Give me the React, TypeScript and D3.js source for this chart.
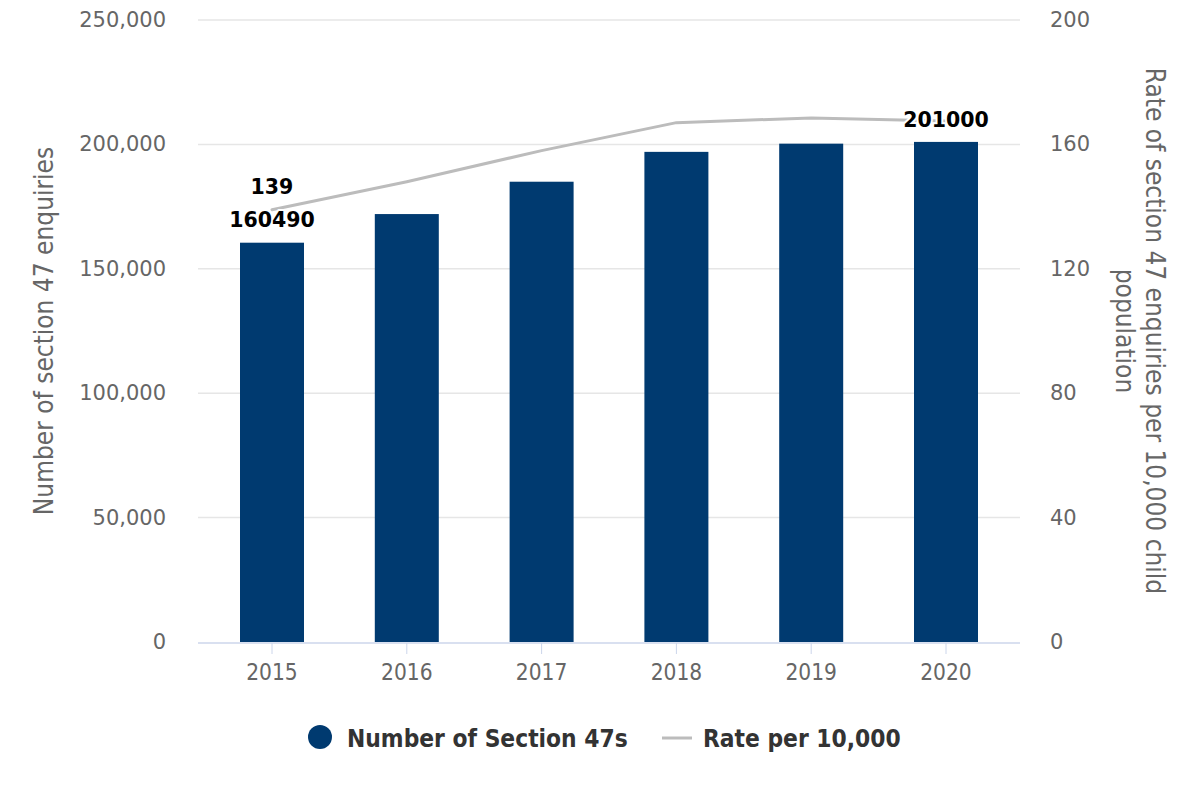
import * as d3 from 'd3';

const YEARS = ['2015', '2016', '2017', '2018', '2019', '2020'];
const COUNTS = [160490, 172000, 185000, 197000, 200300, 201000];
const RATES = [139, 148, 158, 167, 168.5, 167.5];
const LEFT_TICKS = [0, 50000, 100000, 150000, 200000, 250000];
const RIGHT_TICKS = [0, 40, 80, 120, 160, 200];

const W = 1200;
const H = 800;
const plot = { left: 198, right: 1020, top: 20, bottom: 642 };
const BAR_W = 64;
const BAR_COLOR = '#003a70';
const LINE_COLOR = '#bcbcbc';
const LABEL_FONT = '"DejaVu Sans", Verdana, sans-serif';
const NARROW_FONT = '"DejaVu Sans Condensed", "DejaVu Sans", sans-serif';

export default function App() {
  const x = d3.scalePoint<string>().domain(YEARS).range([272, 946]);
  const yLeft = d3.scaleLinear().domain([0, 250000]).range([plot.bottom, plot.top]);
  const yRight = d3.scaleLinear().domain([0, 200]).range([plot.bottom, plot.top]);

  const line = d3.line<number>()
    .x((_, i) => x(YEARS[i])!)
    .y(d => yRight(d));

  const fmt = d3.format(',');
  const last = YEARS.length - 1;
  const midY = (plot.top + plot.bottom) / 2;

  return (
    <svg width={W} height={H} style={{ position: 'absolute', left: 0, top: 0, background: '#fff' }}>
      {/* grid */}
      {LEFT_TICKS.filter(t => t > 0).map(t => (
        <line key={t} x1={plot.left} x2={plot.right} y1={yLeft(t)} y2={yLeft(t)} stroke="#e6e6e6" strokeWidth={1.5} />
      ))}

      {/* bars */}
      {COUNTS.map((v, i) => (
        <rect key={YEARS[i]} x={x(YEARS[i])! - BAR_W / 2} y={yLeft(v)} width={BAR_W} height={plot.bottom - yLeft(v)} fill={BAR_COLOR} />
      ))}

      {/* x axis */}
      <line x1={plot.left} x2={plot.right} y1={plot.bottom + 1} y2={plot.bottom + 1} stroke="#ccd6eb" strokeWidth={1.5} />
      {YEARS.map(yr => (
        <g key={yr}>
          <line x1={x(yr)} x2={x(yr)} y1={plot.bottom + 1} y2={plot.bottom + 12} stroke="#ccd6eb" strokeWidth={1} />
          <text x={x(yr)} y={672} textAnchor="middle" dominantBaseline="central" fontFamily={NARROW_FONT} fontSize={22.5} fill="#666">{yr}</text>
        </g>
      ))}

      {/* rate line */}
      <path d={line(RATES) ?? ''} fill="none" stroke={LINE_COLOR} strokeWidth={3} strokeLinejoin="round" strokeLinecap="round" />

      {/* left ticks */}
      {LEFT_TICKS.map(t => (
        <text key={t} x={166} y={yLeft(t)} textAnchor="end" dominantBaseline="central" fontFamily={LABEL_FONT} fontSize={21} fill="#666">{fmt(t)}</text>
      ))}
      {/* right ticks */}
      {RIGHT_TICKS.map(t => (
        <text key={t} x={1050} y={yRight(t)} textAnchor="start" dominantBaseline="central" fontFamily={LABEL_FONT} fontSize={21} fill="#666">{t}</text>
      ))}

      {/* axis titles */}
      <text transform={`translate(44,${midY}) rotate(-90)`} textAnchor="middle" dominantBaseline="central" fontFamily={NARROW_FONT} fontSize={26} fill="#666">
        Number of section 47 enquiries
      </text>
      <text transform={`translate(1155,${midY}) rotate(90)`} textAnchor="middle" dominantBaseline="central" fontFamily={NARROW_FONT} fontSize={26} fill="#666">
        Rate of section 47 enquiries per 10,000 child
      </text>
      <text transform={`translate(1125,${midY}) rotate(90)`} textAnchor="middle" dominantBaseline="central" fontFamily={NARROW_FONT} fontSize={26} fill="#666">
        population
      </text>

      {/* data labels */}
      <g fontFamily={LABEL_FONT} fontSize={20.5} fontWeight={700} fill="#000" stroke="#fff" strokeWidth={4} paintOrder="stroke" strokeLinejoin="round" textAnchor="middle">
        <text x={x(YEARS[0])} y={yRight(RATES[0]) - 16}>{RATES[0]}</text>
        <text x={x(YEARS[0])} y={yLeft(COUNTS[0]) - 16}>{COUNTS[0]}</text>
        <text x={x(YEARS[last])} y={yLeft(COUNTS[last]) - 15}>{COUNTS[last]}</text>
      </g>

      {/* legend */}
      <circle cx={320} cy={737} r={12} fill={BAR_COLOR} />
      <text x={347} y={738} dominantBaseline="central" fontFamily={NARROW_FONT} fontSize={24.3} fontWeight={700} fill="#333">Number of Section 47s</text>
      <line x1={662} x2={692} y1={738} y2={738} stroke={LINE_COLOR} strokeWidth={3} />
      <text x={703} y={738} dominantBaseline="central" fontFamily={NARROW_FONT} fontSize={24.3} fontWeight={700} fill="#333">Rate per 10,000</text>
    </svg>
  );
}
